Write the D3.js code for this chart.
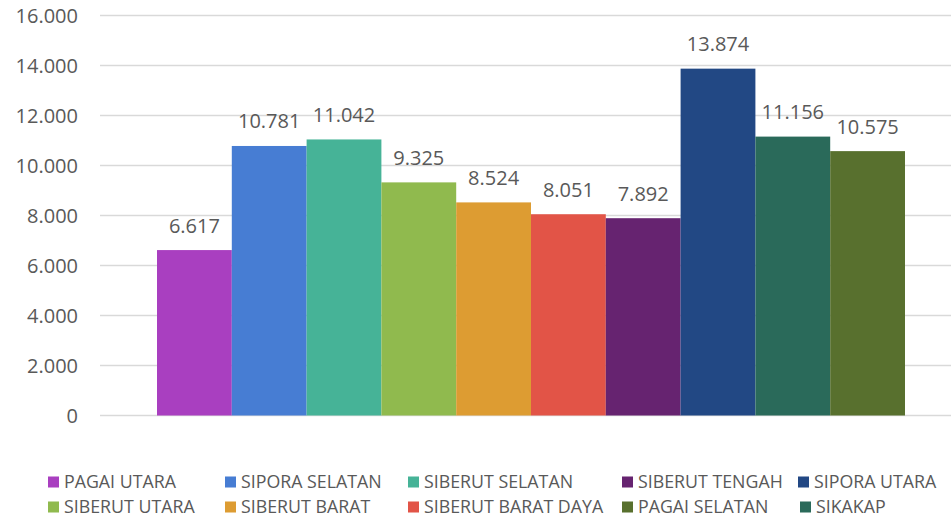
<!DOCTYPE html>
<html>
<head>
<meta charset="utf-8">
<script src="https://cdn.jsdelivr.net/npm/d3@7"></script>
<style>
  body { margin: 0; background: #fff; }
  text { font-family: "Open Sans", sans-serif; fill: #595959; }
</style>
</head>
<body>
<div id="chart"></div>
<script>
// Data
const districts = ["PAGAI UTARA", "SIPORA SELATAN", "SIBERUT SELATAN", "SIBERUT UTARA", "SIBERUT BARAT",
  "SIBERUT BARAT DAYA", "SIBERUT TENGAH", "SIPORA UTARA", "SIKAKAP", "PAGAI SELATAN"];
const values = [6617, 10781, 11042, 9325, 8524, 8051, 7892, 13874, 11156, 10575];
const colors = ["#A93FC0", "#477DD3", "#46B397", "#90BA4E", "#DD9C32",
  "#E25447", "#662370", "#224884", "#2A6A5A", "#58702E"];
const yTicks = [0, 2000, 4000, 6000, 8000, 10000, 12000, 14000, 16000];
// legend layout as in the picture (two rows of five)
const legendRows = [
  ["PAGAI UTARA", "SIPORA SELATAN", "SIBERUT SELATAN", "SIBERUT TENGAH", "SIPORA UTARA"],
  ["SIBERUT UTARA", "SIBERUT BARAT", "SIBERUT BARAT DAYA", "PAGAI SELATAN", "SIKAKAP"]
];

const width = 951, height = 519;
const fmt = d3.formatLocale({ decimal: ",", thousands: ".", grouping: [3] }).format(",.0f");

const svg = d3.select("#chart").append("svg")
  .attr("width", width)
  .attr("height", height);

const y = d3.scaleLinear().domain([0, 16000]).range([415.5, 15.5]);
const x = d3.scaleBand().domain(districts).range([157, 905]).padding(0);

// gridlines
svg.append("g")
  .selectAll("line")
  .data(yTicks)
  .enter().append("line")
  .attr("x1", 100)
  .attr("x2", width)
  .attr("y1", d => y(d))
  .attr("y2", d => y(d))
  .style("stroke", "#D9D9D9")
  .style("stroke-width", 1.3);

// tick labels
svg.append("g")
  .selectAll("text")
  .data(yTicks)
  .enter().append("text")
  .attr("x", 78)
  .attr("y", d => y(d) + 7)
  .style("text-anchor", "end")
  .style("font-size", "20px")
  .text(d => fmt(d));

// bars
svg.append("g")
  .selectAll("rect")
  .data(districts)
  .enter().append("rect")
  .attr("x", d => x(d))
  .attr("width", x.bandwidth())
  .attr("y", (d, i) => y(values[i]))
  .attr("height", (d, i) => y(0) - y(values[i]))
  .style("fill", (d, i) => colors[i]);

// value labels
svg.append("g")
  .selectAll("text")
  .data(districts)
  .enter().append("text")
  .attr("x", d => x(d) + x.bandwidth() / 2)
  .attr("y", (d, i) => y(values[i]) - 17.5)
  .style("text-anchor", "middle")
  .style("font-size", "20px")
  .text((d, i) => fmt(values[i]));

// legend
const colX = [[48, 225, 408, 622, 798], [48, 225, 408, 622, 800]];
const rowY = [482, 507];
legendRows.forEach((row, r) => {
  const g = svg.append("g");
  g.selectAll("rect")
    .data(row)
    .enter().append("rect")
    .attr("x", (d, i) => colX[r][i])
    .attr("y", rowY[r] - 5.5)
    .attr("width", 11)
    .attr("height", 11)
    .style("fill", d => colors[districts.indexOf(d)]);
  g.selectAll("text")
    .data(row)
    .enter().append("text")
    .attr("x", (d, i) => colX[r][i] + 16)
    .attr("y", rowY[r] + 6)
    .style("font-size", "17.8px")
    .text(d => d);
});
</script>
</body>
</html>
